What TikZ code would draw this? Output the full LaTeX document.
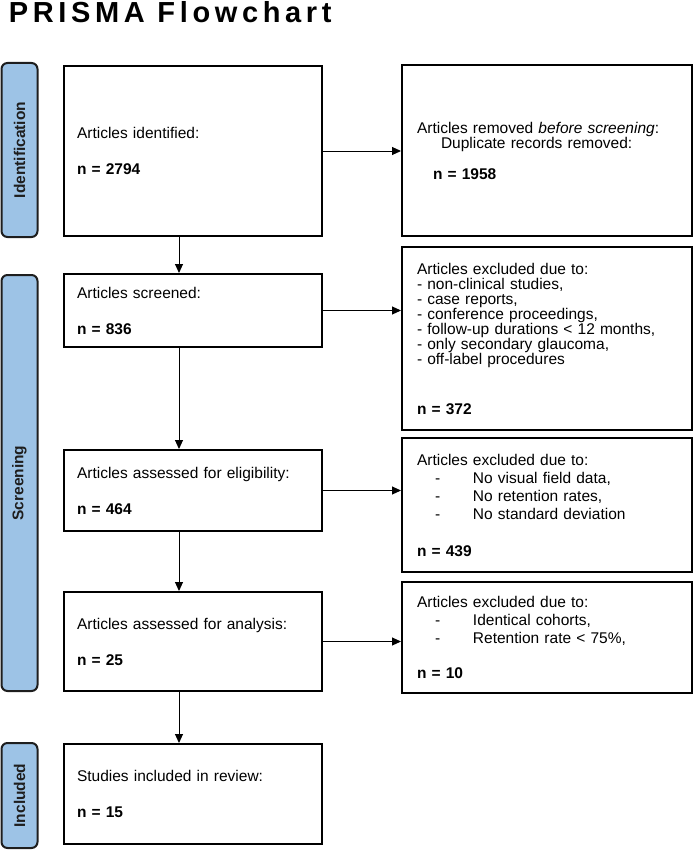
\documentclass[tikz,border=0pt]{standalone}
\usepackage{fontspec}
\setmainfont{Liberation Sans}
\newfontfamily\titlefont[LetterSpace=16]{Liberation Sans}
\usepackage{tikz}
\usetikzlibrary{arrows.meta}
\definecolor{barblue}{RGB}{157,195,230}
\definecolor{bardark}{RGB}{30,30,30}
\newcommand\exitem[1]{\hspace*{18pt}\makebox[38pt][l]{-}#1}
\tikzset{
  box/.style={draw=black,line width=2pt,inner xsep=13pt,inner ysep=2pt,align=left,text width=232pt,minimum width=258pt},
  sidebox/.style={box,inner xsep=15pt,text width=260pt,minimum width=290pt},
  stagebar/.style={draw=bardark,fill=barblue,line width=2pt,rounded corners=6pt,rotate=90,minimum height=36pt,inner sep=0pt,text=bardark,font=\fontsize{15.5}{18}\selectfont\bfseries},
}

\begin{document}
\begin{tikzpicture}[x=1pt,y=-1pt,line width=1pt,>={Triangle[length=9pt,width=8pt]},every node/.style={font=\fontsize{15.5}{18}\selectfont}]
\useasboundingbox (0,0) rectangle (696,856);
\node[anchor=base west,font=\titlefont\bfseries\fontsize{29}{30}\selectfont] (title) at (5,23) {PRISMA Flowchart};

% stage bars
\node[stagebar,minimum width=174pt] (Sid) at (19.5,150) {Identification};
\node[stagebar,minimum width=416pt] (Sscr) at (19.5,483) {Screening};
\node[stagebar,minimum width=105pt] (Sinc) at (19.5,795.5) {Included};

% main column
\node[box,minimum height=170pt] (B1) at (193,151) {Articles identified:\\[18pt]\textbf{n = 2794}};
\node[box,minimum height=73pt] (B2) at (193,310.5) {Articles screened:\\[18pt]\textbf{n = 836}};
\node[box,minimum height=81pt] (B3) at (193,490.5) {Articles assessed for eligibility:\\[18pt]\textbf{n = 464}};
\node[box,minimum height=99pt] (B4) at (193,641.5) {Articles assessed for analysis:\\[18pt]\textbf{n = 25}};
\node[box,minimum height=100pt] (B5) at (193,794) {Studies included in review:\\[18pt]\textbf{n = 15}};

% removed / excluded
\node[sidebox,minimum height=171pt,font=\fontsize{15.5}{15}\selectfont] (R1) at (547,150.5) {Articles removed \textit{before screening}:\\\hspace*{24pt}Duplicate records removed:\\[16pt]\hspace*{16pt}\textbf{n = 1958}};
\node[sidebox,minimum height=183pt,font=\fontsize{15.5}{15}\selectfont] (R2) at (547,338.5) {Articles excluded due to:\\- non-clinical studies,\\- case reports,\\- conference proceedings,\\- follow-up durations < 12 months,\\- only secondary glaucoma,\\- off-label procedures\\[35pt]\textbf{n = 372}};
\node[sidebox,minimum height=134pt] (R3) at (547,505) {Articles excluded due to:\\\exitem{No visual field data,}\\\exitem{No retention rates,}\\\exitem{No standard deviation}\\[19pt]\textbf{n = 439}};
\node[sidebox,minimum height=111pt] (R4) at (547,637.5) {Articles excluded due to:\\\exitem{Identical cohorts,}\\\exitem{Retention rate < 75\%,}\\[17pt]\textbf{n = 10}};

% arrows
\coordinate (ax) at (179,0);
\draw[->] (ax |- B1.south) -- (ax |- B2.north);
\draw[->] (ax |- B2.south) -- (ax |- B3.north);
\draw[->] (ax |- B3.south) -- (ax |- B4.north);
\draw[->] (ax |- B4.south) -- (ax |- B5.north);
\draw[->] (B1.east) -- (B1.east -| R1.west);
\draw[->] (B2.east) -- (B2.east -| R2.west);
\draw[->] (B3.east) -- (B3.east -| R3.west);
\draw[->] (B4.east) -- (B4.east -| R4.west);
\end{tikzpicture}
\end{document}
